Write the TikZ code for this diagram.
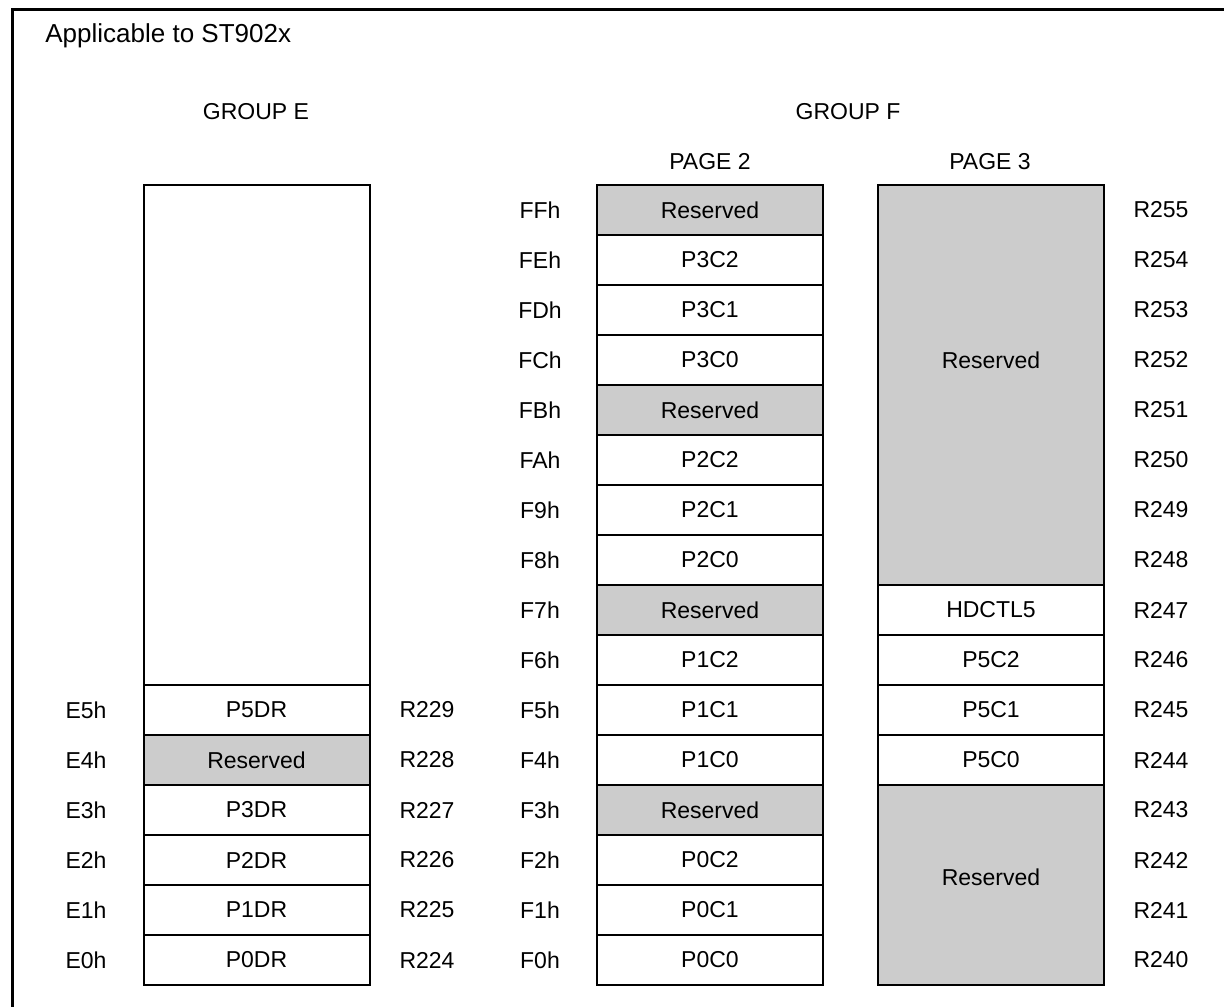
\documentclass[tikz,border=0pt]{standalone}
\usepackage{fontspec}
\setmainfont{Liberation Sans}
\begin{document}
\begin{tikzpicture}[x=0.5pt,y=-0.5pt,
  lbl/.style={font=\fontsize{11.5}{13}\selectfont, inner sep=0pt},
  cell/.style={draw, line width=1pt, minimum width=113pt, minimum height=25pt,
    inner sep=0pt, font=\fontsize{11.5}{13}\selectfont},
  res/.style={cell, fill=black!20},
  frame/.style={line width=1.5pt}]
\useasboundingbox (0,0) rectangle (1224,1006);
% outer frame (left and top edges)
\coordinate (fbl) at (12,1012);
\coordinate (ftl) at (12,10);
\coordinate (ftr) at (1230,10);
\draw[frame] (fbl) -- (ftl) -- (ftr);
% titles
\node[lbl, anchor=base west, font=\fontsize{13}{15}\selectfont] (title) at (45,43) {Applicable to ST902x};
\node[lbl] (grpE) at (256,112) {GROUP E};
\node[lbl] (grpF) at (848,112) {GROUP F};
\node[lbl] (pg2t) at (710,162) {PAGE 2};
\node[lbl] (pg3t) at (990,162) {PAGE 3};
% group E
\node[cell, minimum height=250pt] (eempty) at (256.5,435) {};
\foreach \i/\t/\s/\h/\r in {10/P5DR/cell/E5/229, 11/Reserved/res/E4/228, 12/P3DR/cell/E3/227,
    13/P2DR/cell/E2/226, 14/P1DR/cell/E1/225, 15/P0DR/cell/E0/224}{
  \node[\s] (e-\i) at (256.5,{210+50*\i}) {\t};
  \node[lbl] (el-\i) at (86,{210+50*\i}) {\h h};
  \node[lbl] (er-\i) at (427,{210+50*\i}) {R\r};
}
% page 2
\foreach \i/\t/\s/\h in {0/Reserved/res/FF, 1/P3C2/cell/FE, 2/P3C1/cell/FD, 3/P3C0/cell/FC,
    4/Reserved/res/FB, 5/P2C2/cell/FA, 6/P2C1/cell/F9, 7/P2C0/cell/F8,
    8/Reserved/res/F7, 9/P1C2/cell/F6, 10/P1C1/cell/F5, 11/P1C0/cell/F4,
    12/Reserved/res/F3, 13/P0C2/cell/F2, 14/P0C1/cell/F1, 15/P0C0/cell/F0}{
  \node[\s] (p2-\i) at (710,{210+50*\i}) {\t};
  \node[lbl] (fl-\i) at (540,{210+50*\i}) {\h h};
  \pgfmathtruncatemacro{\rn}{255-\i}
  \node[lbl] (fr-\i) at (1161,{210+50*\i}) {R\rn};
}
% page 3
\node[res, minimum height=200pt] (p3a) at (991,385) {};
\node[lbl] (p3at) at (991,360) {Reserved};
\foreach \i/\t in {8/HDCTL5, 9/P5C2, 10/P5C1, 11/P5C0}{
  \node[cell] (p3-\i) at (991,{210+50*\i}) {\t};
}
\node[res, minimum height=100pt] (p3b) at (991,885) {};
\node[lbl] (p3bt) at (991,877) {Reserved};
\end{tikzpicture}
\end{document}
